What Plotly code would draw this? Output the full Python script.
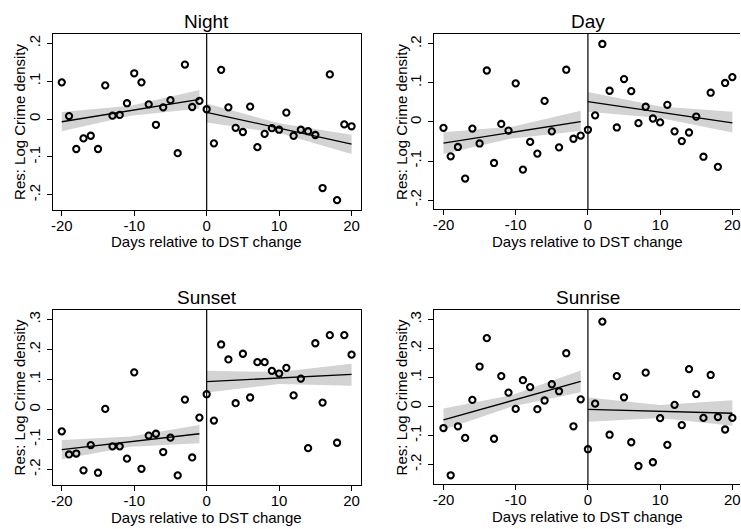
import plotly.graph_objects as go

# days relative to the DST change
days = list(range(-20, 21))

night = [0.097, 0.008, -0.079, -0.051, -0.044, -0.079, 0.089, 0.009, 0.011, 0.042,
         0.121, 0.097, 0.039, -0.015, 0.031, 0.050, -0.090, 0.144, 0.032, 0.048,
         0.026, -0.064, 0.130, 0.031, -0.023, -0.034, 0.033, -0.074, -0.039, -0.024,
         -0.028, 0.017, -0.044, -0.028, -0.032, -0.042, -0.182, 0.118, -0.214, -0.014,
         -0.019]
day = [-0.015, -0.088, -0.064, -0.145, -0.017, -0.055, 0.132, -0.105, -0.005, -0.022,
       0.099, -0.122, -0.051, -0.081, 0.054, -0.024, -0.065, 0.134, -0.043, -0.035,
       -0.020, 0.017, 0.200, 0.080, -0.014, 0.110, 0.079, -0.003, 0.039, 0.009,
       -0.001, 0.044, -0.024, -0.049, -0.027, 0.014, -0.089, 0.075, -0.115, 0.100,
       0.115]
sunset = [-0.073, -0.150, -0.147, -0.203, -0.119, -0.211, 0.002, -0.123, -0.123, -0.164,
          0.124, -0.198, -0.087, -0.081, -0.142, -0.094, -0.220, 0.033, -0.160, -0.027,
          0.051, -0.037, 0.217, 0.167, 0.021, 0.186, 0.040, 0.158, 0.158, 0.129,
          0.120, 0.139, 0.047, 0.103, -0.129, 0.221, 0.023, 0.248, -0.111, 0.248,
          0.183]
sunrise = [-0.074, -0.237, -0.068, -0.108, 0.023, 0.138, 0.236, -0.111, 0.105, 0.048,
           -0.008, 0.091, 0.067, -0.009, 0.021, 0.077, 0.053, 0.184, -0.068, 0.025,
           -0.147, 0.010, 0.293, -0.097, 0.105, 0.032, -0.123, -0.205, 0.117, -0.192,
           -0.040, -0.132, 0.006, -0.064, 0.129, 0.043, -0.039, 0.109, -0.036, -0.079,
           -0.039]

# fitted lines and 95% bands, read at the start / middle / end of each side
fit_x_pre = [-20, -10.5, -1]
fit_x_post = [0, 10, 20]
fits = {
    "Night": dict(pre=[-0.007, 0.022, 0.052], pre_lo=[-0.032, 0.009, 0.028], pre_hi=[0.019, 0.035, 0.077],
                  post=[0.018, -0.024, -0.066], post_lo=[-0.009, -0.037, -0.092], post_hi=[0.041, -0.011, -0.041]),
    "Day": dict(pre=[-0.054, -0.027, 0.001], pre_lo=[-0.082, -0.042, -0.023], pre_hi=[-0.026, -0.012, 0.029],
                post=[0.052, 0.025, -0.002], post_lo=[0.026, 0.010, -0.027], post_hi=[0.077, 0.040, 0.026]),
    "Sunset": dict(pre=[-0.134, -0.107, -0.081], pre_lo=[-0.166, -0.124, -0.113], pre_hi=[-0.102, -0.090, -0.052],
                   post=[0.093, 0.105, 0.117], post_lo=[0.057, 0.085, 0.079], post_hi=[0.129, 0.125, 0.153]),
    "Sunrise": dict(pre=[-0.046, 0.020, 0.087], pre_lo=[-0.080, 0.000, 0.049], pre_hi=[-0.007, 0.040, 0.124],
                    post=[-0.010, -0.017, -0.023], post_lo=[-0.052, -0.039, -0.066], post_hi=[0.031, 0.005, 0.022]),
}

panels = [
    ("Night", night, [-0.240, 0.2247], [".2", ".1", "0", "-.1", "-.2"]),
    ("Day", day, [-0.223, 0.2255], [".2", ".1", "0", "-.1", "-.2"]),
    ("Sunset", sunset, [-0.252, 0.332], [".3", ".2", ".1", "0", "-.1", "-.2"]),
    ("Sunrise", sunrise, [-0.267, 0.333], [".3", ".2", ".1", "0", "-.1", "-.2"]),
]
tick_vals = {".3": 0.3, ".2": 0.2, ".1": 0.1, "0": 0, "-.1": -0.1, "-.2": -0.2}

W, H = 741, 529
# pixel boxes: (left, right, top, bottom)
boxes = [(51, 360, 34, 210), (434, 741, 34, 209), (51, 360, 310, 485), (434, 741, 310, 484)]
xranges = [[-21.24, 21.24], [-21.28, 21.06], [-21.24, 21.24], [-21.28, 21.06]]

FONT = "Liberation Sans, Arial, Helvetica, sans-serif"
BAND = "#d3d3d3"

fig = go.Figure()
layout = dict(width=W, height=H, margin=dict(l=0, r=0, t=0, b=0),
              paper_bgcolor="white", plot_bgcolor="white", showlegend=False,
              font=dict(family=FONT, color="black"))
annotations = []
shapes = []

for i, (name, vals, yr, tlabels) in enumerate(panels):
    n = "" if i == 0 else str(i + 1)
    xa, ya = "x" + n, "y" + n
    f = fits[name]
    for side, fx in (("pre", fit_x_pre), ("post", fit_x_post)):
        fig.add_trace(go.Scatter(x=fx + fx[::-1], y=f[side + "_hi"] + f[side + "_lo"][::-1],
                                 fill="toself", fillcolor=BAND, line=dict(width=0),
                                 mode="lines", hoverinfo="skip", xaxis=xa, yaxis=ya))
        fig.add_trace(go.Scatter(x=fx, y=f[side], mode="lines", line=dict(color="black", width=1.3),
                                 xaxis=xa, yaxis=ya))
    fig.add_trace(go.Scatter(x=days, y=vals, mode="markers", xaxis=xa, yaxis=ya,
                             marker=dict(symbol="circle-open", size=6.2, color="black",
                                         line=dict(width=2.1, color="black"))))

    l, r, t, b = boxes[i]
    right_col = i % 2 == 1
    layout["xaxis" + n] = dict(domain=[l / W, r / W], range=xranges[i], anchor=ya,
                               showline=True, mirror=True, linecolor="black", linewidth=1.3,
                               ticks="outside", ticklen=5, tickwidth=1.2, tickcolor="black",
                               tickvals=[-20, -10, 0, 10, 20], ticktext=["-20", "-10", "0", "10", "20"],
                               ticklabelstandoff=-3, ticklabeloverflow="allow",
                               showgrid=False, zeroline=False, tickfont=dict(size=15))
    layout["yaxis" + n] = dict(domain=[1 - b / H, 1 - t / H], range=yr, anchor=xa,
                               showline=True, mirror=not right_col, linecolor="black", linewidth=1.3,
                               ticks="outside", ticklen=5, tickwidth=1.2, tickcolor="black",
                               tickvals=[tick_vals[s] for s in tlabels], ticktext=tlabels,
                               ticklabelstandoff=1,
                               tickangle=-90, showgrid=False, zeroline=False, tickfont=dict(size=15))
    shapes.append(dict(type="line", xref=xa, yref=ya + " domain", x0=0, x1=0, y0=0, y1=1,
                       line=dict(color="black", width=1.2)))

    cx = (l + (r if not right_col else 742.6)) / 2
    annotations.append(dict(text=name, x=cx / W, y=1 - (t - 13) / H, xref="paper", yref="paper",
                            xanchor="center", yanchor="middle", showarrow=False, font=dict(size=19)))
    annotations.append(dict(text="Days relative to DST change", x=cx / W, y=1 - (b + 32) / H,
                            xref="paper", yref="paper", xanchor="center", yanchor="middle",
                            showarrow=False, font=dict(size=15)))
    annotations.append(dict(text="Res: Log Crime density", x=(l - 33) / W, y=1 - (t + b) / 2 / H,
                            xref="paper", yref="paper", xanchor="center", yanchor="middle",
                            textangle=-90, showarrow=False, font=dict(size=15)))

layout["annotations"] = annotations
layout["shapes"] = shapes
fig.update_layout(**layout)

# drop the browser's default page margin so the figure sits at the window corner
fig.write_html("out.html", config={"displayModeBar": False},
               post_script="document.body.style.margin='0';")
